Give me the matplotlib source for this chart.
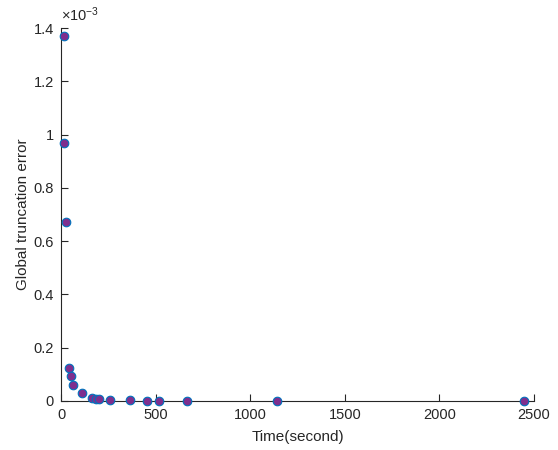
import matplotlib
matplotlib.use("Agg")
import matplotlib.pyplot as plt
import numpy as np

# datos
tiempo = [16, 16, 25, 44, 53, 65, 111, 165, 185, 199, 260, 365, 453, 518, 666, 1142, 2449]
error = [1.371, 0.967, 0.671, 0.125, 0.095, 0.060, 0.029, 0.010, 0.0086, 0.0064,
         0.004, 0.002, 0.0015, 0.001, 0.0008, 0.0003, 0.0001]
error = np.array(error) * 1e-3

plt.rcParams['font.family'] = ['Liberation Sans', 'DejaVu Sans']
plt.rcParams['mathtext.default'] = 'regular'
gris = '#262626'

fig = plt.figure(figsize=(5.58, 4.5), dpi=100)
ax = fig.add_axes([61 / 558, 49 / 450, (534 - 61) / 558, (401 - 28) / 450])

ax.scatter(tiempo, error, s=38, facecolor='#7E2F8E', edgecolor='#0072BD',
           linewidths=0.8, zorder=3, clip_on=False)

ax.set_xlim(0, 2500)
ax.set_ylim(0, 1.4e-3)
ax.set_xticks([0, 500, 1000, 1500, 2000, 2500])
ax.set_yticks(np.arange(0, 1.41e-3, 0.2e-3))
ax.set_yticklabels(['0', '0.2', '0.4', '0.6', '0.8', '1', '1.2', '1.4'])

for s in ['top', 'right']:
    ax.spines[s].set_visible(False)
for s in ['left', 'bottom']:
    ax.spines[s].set_color(gris)
    ax.spines[s].set_linewidth(0.8)

ax.tick_params(direction='in', length=5, width=0.8, colors=gris, labelsize=10.5,
               labelcolor=gris, pad=5)

ax.set_xlabel('Time(second)', fontsize=11, color=gris, labelpad=6)
ax.set_ylabel('Global truncation error', fontsize=11, color=gris, labelpad=3)

ax.text(0.0, 1.012, r'$\times10^{-3}$', transform=ax.transAxes, fontsize=10.5,
        color=gris, ha='left', va='bottom')

fig.savefig('out.png', dpi=100)
